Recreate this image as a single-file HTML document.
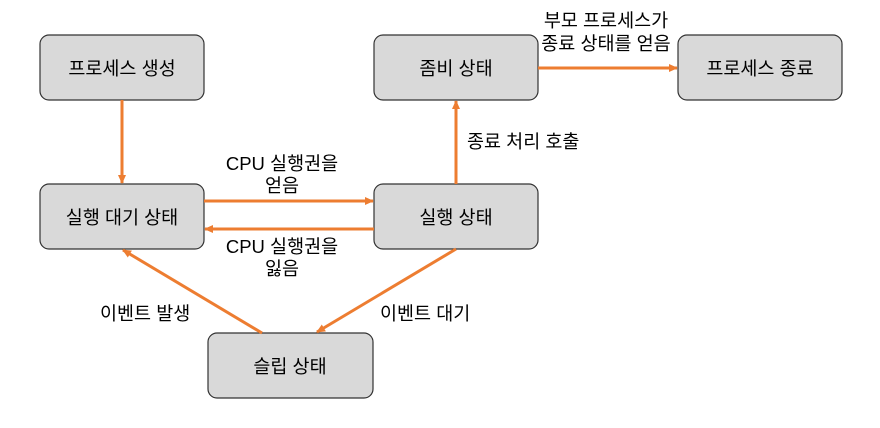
<!DOCTYPE html>
<html><head><meta charset="utf-8"><style>
body{margin:0;background:#fff}
text{font-family:"Liberation Sans","Noto Sans CJK KR",sans-serif;font-size:18.5px;fill:#000}
</style></head><body>
<svg width="880" height="423" viewBox="0 0 880 423" xmlns="http://www.w3.org/2000/svg">
<defs><marker id="a" markerWidth="10" markerHeight="10" refX="8" refY="5" orient="auto" markerUnits="userSpaceOnUse"><path d="M0,1 L9,5 L0,9 z" fill="#ed7d31"/></marker></defs>
<g fill="#d9d9d9" stroke="#333" stroke-width="1.2">
<rect x="40" y="35" width="164" height="65" rx="9"/>
<rect x="374" y="35" width="164" height="65" rx="9"/>
<rect x="678" y="35" width="164" height="65" rx="9"/>
<rect x="40" y="184" width="164" height="65" rx="9"/>
<rect x="374" y="184" width="164" height="65" rx="9"/>
<rect x="208" y="333" width="165" height="65" rx="9"/>
</g>
<g stroke="#ed7d31" stroke-width="3" fill="none" marker-end="url(#a)">
<line x1="122" y1="100" x2="122" y2="183"/>
<line x1="204" y1="201" x2="373" y2="201"/>
<line x1="374" y1="229" x2="205" y2="229"/>
<line x1="456" y1="184" x2="456" y2="101"/>
<line x1="538" y1="68" x2="677" y2="68"/>
<line x1="456" y1="249" x2="317" y2="332"/>
<line x1="262" y1="333" x2="123" y2="250"/>
</g>
<g text-anchor="middle">
<text x="122" y="75">프로세스 생성</text>
<text x="456" y="75">좀비 상태</text>
<text x="760" y="75">프로세스 종료</text>
<text x="122" y="224">실행 대기 상태</text>
<text x="456" y="224">실행 상태</text>
<text x="290" y="373">슬립 상태</text>
<text x="282" y="170">CPU 실행권을</text>
<text x="282" y="192">얻음</text>
<text x="282" y="253">CPU 실행권을</text>
<text x="282" y="275">잃음</text>
<text x="606" y="27">부모 프로세스가</text>
<text x="606" y="50">종료 상태를 얻음</text>
</g>
<text x="467" y="148">종료 처리 호출</text>
<text x="100" y="320">이벤트 발생</text>
<text x="380" y="320">이벤트 대기</text>
</svg>
</body></html>
